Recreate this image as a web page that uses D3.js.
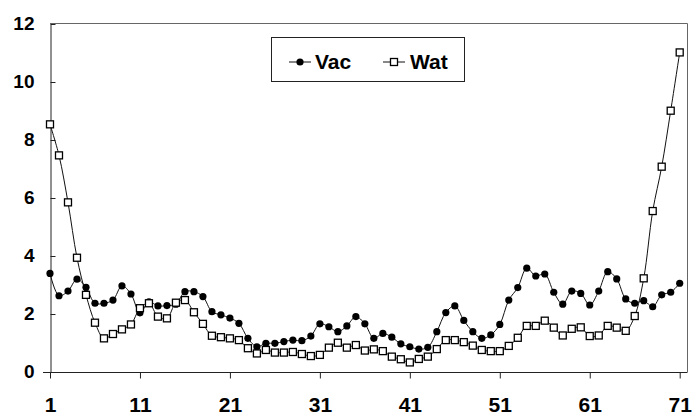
<!DOCTYPE html>
<html>
<head>
<meta charset="utf-8">
<script src="https://cdn.jsdelivr.net/npm/d3@7/dist/d3.min.js"></script>
<style>
  html, body { margin: 0; padding: 0; background: #fff; }
  svg { display: block; }
  text { font-family: "Liberation Sans", Arial, sans-serif; font-weight: bold; fill: #000; }
</style>
</head>
<body>
<svg id="chart" width="692" height="417"></svg>
<script>
// Sample positions 1..71
const positions = d3.range(1, 72);

// Series values
const vac = [3.40, 2.63, 2.79, 3.20, 2.92, 2.37, 2.37, 2.48, 2.97, 2.69,
             2.04, 2.42, 2.28, 2.29, 2.34, 2.77, 2.77, 2.60, 2.08, 1.97,
             1.86, 1.68, 1.16, 0.87, 0.99, 0.99, 1.05, 1.10, 1.08, 1.24,
             1.66, 1.56, 1.39, 1.59, 1.91, 1.66, 1.16, 1.33, 1.20, 0.97,
             0.87, 0.79, 0.85, 1.39, 2.05, 2.28, 1.78, 1.39, 1.16, 1.28,
             1.64, 2.48, 2.91, 3.58, 3.31, 3.38, 2.75, 2.34, 2.79, 2.71,
             2.31, 2.79, 3.46, 3.21, 2.52, 2.37, 2.46, 2.25, 2.66, 2.75,
             3.06];
const wat = [8.54, 7.47, 5.85, 3.94, 2.66, 1.70, 1.16, 1.31, 1.47, 1.64,
             2.20, 2.37, 1.91, 1.85, 2.39, 2.48, 2.06, 1.66, 1.25, 1.20,
             1.16, 1.10, 0.82, 0.64, 0.76, 0.67, 0.67, 0.69, 0.62, 0.55,
             0.59, 0.84, 1.01, 0.84, 0.93, 0.74, 0.78, 0.72, 0.53, 0.44,
             0.33, 0.45, 0.53, 0.79, 1.10, 1.10, 1.03, 0.91, 0.76, 0.72,
             0.72, 0.90, 1.18, 1.59, 1.59, 1.77, 1.53, 1.26, 1.49, 1.54,
             1.24, 1.26, 1.59, 1.53, 1.42, 1.93, 3.23, 5.55, 7.08, 9.01,
             11.02];

// Tick labels
const xTicks = [1, 11, 21, 31, 41, 51, 61, 71];
const yTicks = [0, 2, 4, 6, 8, 10, 12];
const seriesNames = ["Vac", "Wat"];

const svg = d3.select("#chart");

const plot = { left: 50, right: 687, top: 24, bottom: 372 };
const x = d3.scaleLinear().domain([1, 71]).range([50, 679.7]);
const y = d3.scaleLinear().domain([0, 12]).range([plot.bottom, plot.top]);

// Plot frame (top and right edges)
svg.append("path")
  .attr("d", `M${plot.left},${plot.top - 0.5}H${plot.right + 0.5}V${plot.bottom}`)
  .attr("fill", "none")
  .attr("stroke", "#666")
  .attr("stroke-width", 1);

// Y axis
const yAxis = svg.append("g")
  .attr("transform", `translate(${plot.left + 0.5},0)`)
  .call(d3.axisLeft(y).tickValues(yTicks).tickSizeOuter(0).tickSizeInner(7).tickPadding(9));
yAxis.select(".domain").attr("stroke", "#222");
yAxis.selectAll(".tick line").attr("stroke", "#222").attr("x2", 5);
yAxis.selectAll(".tick text")
  .style("font-size", "19px")
  .style("font-family", "'Liberation Sans', Arial, sans-serif")
  .style("font-weight", "bold")
  .attr("dy", "0.28em");

// X axis
const xAxis = svg.append("g")
  .attr("transform", `translate(0,${plot.bottom + 0.5})`)
  .call(d3.axisBottom(x).tickValues(xTicks).tickFormat(d3.format("d"))
    .tickSizeOuter(0).tickSizeInner(6).tickPadding(19));
xAxis.select(".domain").attr("stroke", "#222").attr("d", `M${plot.left - 7},0H${plot.right + 0.5}`);
xAxis.selectAll(".tick line").attr("stroke", "#222");
xAxis.selectAll(".tick text")
  .style("font-size", "21px")
  .style("font-family", "'Liberation Sans', Arial, sans-serif")
  .style("font-weight", "bold")
  .attr("dy", "0.71em");

// Series lines
const line = d3.line()
  .x((d, i) => x(positions[i]))
  .y(d => y(d))
  .curve(d3.curveCatmullRom.alpha(0.5));

svg.append("path").datum(wat)
  .attr("d", line).attr("fill", "none").attr("stroke", "#111").attr("stroke-width", 1);
svg.append("path").datum(vac)
  .attr("d", line).attr("fill", "none").attr("stroke", "#111").attr("stroke-width", 1);

// Markers
svg.append("g").selectAll("circle").data(vac).join("circle")
  .attr("cx", (d, i) => x(positions[i]))
  .attr("cy", d => y(d))
  .attr("r", 3.6)
  .attr("fill", "#000");

const sq = 7;
svg.append("g").selectAll("rect").data(wat).join("rect")
  .attr("x", (d, i) => x(positions[i]) - sq / 2)
  .attr("y", d => y(d) - sq / 2)
  .attr("width", sq)
  .attr("height", sq)
  .attr("fill", "#fff")
  .attr("stroke", "#000")
  .attr("stroke-width", 1.3);

// Legend
const legend = svg.append("g");
legend.append("rect")
  .attr("x", 271.5).attr("y", 37.5).attr("width", 193).attr("height", 44)
  .attr("fill", "#fff").attr("stroke", "#222").attr("stroke-width", 1);

const legendItems = [
  { name: seriesNames[0], lx: 289, tx: 315, type: "circle" },
  { name: seriesNames[1], lx: 383, tx: 410, type: "rect" }
];
const ly = 62;
legendItems.forEach(item => {
  legend.append("line")
    .attr("x1", item.lx).attr("x2", item.lx + 22)
    .attr("y1", ly).attr("y2", ly)
    .attr("stroke", "#111").attr("stroke-width", 1);
  if (item.type === "circle") {
    legend.append("circle").attr("cx", item.lx + 11).attr("cy", ly).attr("r", 3.6).attr("fill", "#000");
  } else {
    legend.append("rect")
      .attr("x", item.lx + 11 - sq / 2).attr("y", ly - sq / 2)
      .attr("width", sq).attr("height", sq)
      .attr("fill", "#fff").attr("stroke", "#000").attr("stroke-width", 1.3);
  }
  legend.append("text")
    .attr("x", item.tx).attr("y", 68.5)
    .style("font-size", "21px")
    .text(item.name);
});
</script>
</body>
</html>
